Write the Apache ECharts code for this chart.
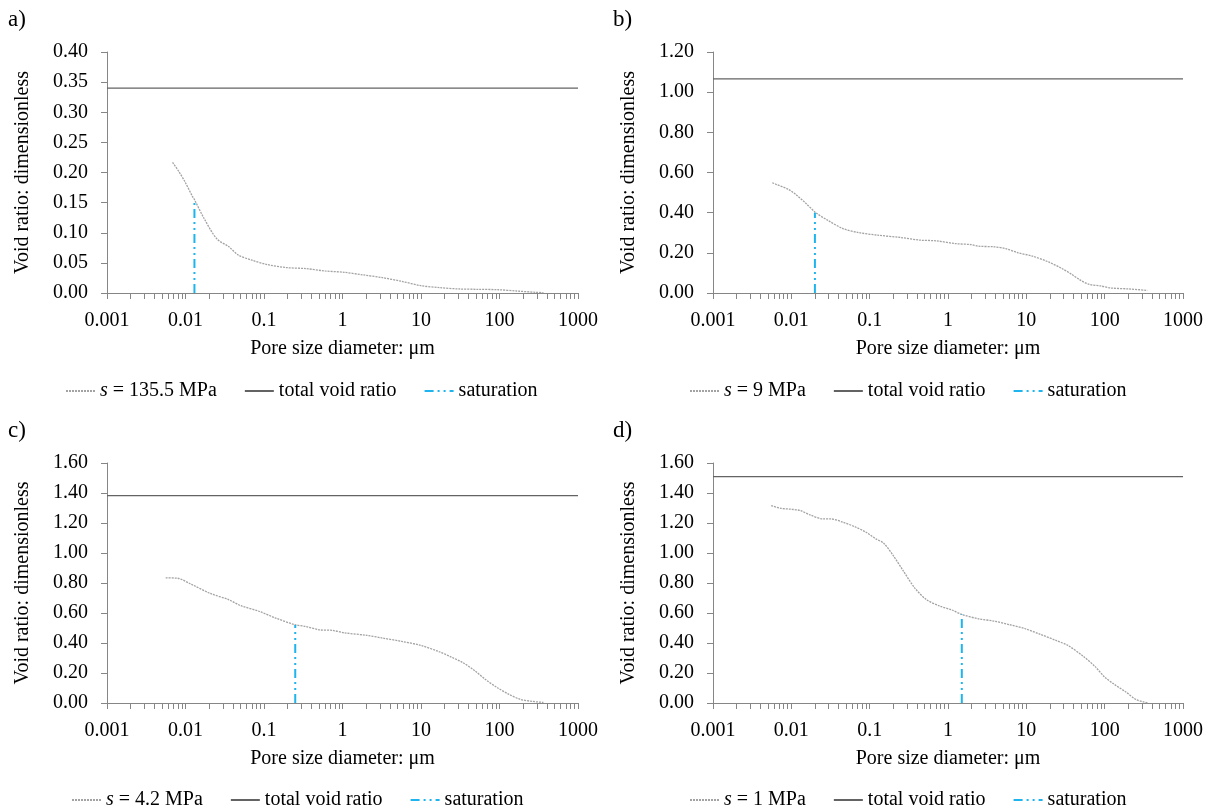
<!DOCTYPE html>
<html>
<head>
<meta charset="utf-8">
<script src="https://cdn.jsdelivr.net/npm/echarts@6/dist/echarts.min.js"></script>
<style>
html,body{margin:0;padding:0;background:#fff;}
#chart{width:1215px;height:811px;}
</style>
</head>
<body>
<div id="chart"></div>
<script>
// ---- Tick labels ----
const xTickValues = [0.001, 0.01, 0.1, 1, 10, 100, 1000];
const xTickLabels = ['0.001', '0.01', '0.1', '1', '10', '100', '1000'];
const panelLetters = ['a)', 'b)', 'c)', 'd)'];
const suctionNames = ['s = 135.5 MPa', 's = 9 MPa', 's = 4.2 MPa', 's = 1 MPa'];
const yMax = [0.40, 1.20, 1.60, 1.60];
const yInterval = [0.05, 0.20, 0.20, 0.20];

// ---- Panel a) s = 135.5 MPa ----
const diamA = [0.00684, 0.00828, 0.0098, 0.0123, 0.013, 0.0172, 0.025, 0.0358, 0.0474, 0.0703, 0.110, 0.193, 0.340, 0.596, 1.045, 1.83, 3.22, 5.65, 9.9, 17.4, 30.5, 53.7, 94, 165, 289, 363];
const voidA = [0.217, 0.201, 0.185, 0.160, 0.155, 0.124, 0.090, 0.0766, 0.0627, 0.0544, 0.0472, 0.0422, 0.0405, 0.0366, 0.0344, 0.030, 0.0255, 0.0194, 0.0122, 0.0089, 0.0067, 0.0061, 0.0055, 0.0033, 0.0011, 0.0005];
const totalA = 0.34;
const satDiamA = 0.013;
const satVoidA = 0.155;

// ---- Panel b) s = 9 MPa ----
const diamB = [0.00571, 0.0064, 0.0092, 0.0116, 0.0154, 0.0205, 0.0289, 0.0455, 0.0718, 0.127, 0.252, 0.445, 0.70, 1.24, 1.96, 2.46, 3.88, 5.47, 7.7, 12.1, 19.1, 28.5, 37.9, 47.6, 63.4, 89, 119, 210, 351];
const voidB = [0.549, 0.541, 0.516, 0.488, 0.446, 0.400, 0.363, 0.321, 0.301, 0.288, 0.276, 0.263, 0.260, 0.246, 0.241, 0.233, 0.230, 0.221, 0.201, 0.183, 0.155, 0.122, 0.093, 0.067, 0.043, 0.035, 0.025, 0.020, 0.013];
const totalB = 1.066;
const satDiamB = 0.02;
const satVoidB = 0.40;

// ---- Panel c) s = 4.2 MPa ----
const diamC = [0.00559, 0.00783, 0.0116, 0.0204, 0.0358, 0.050, 0.088, 0.138, 0.248, 0.34, 0.504, 0.746, 1.045, 2.05, 3.22, 5.65, 9.9, 17.4, 24.4, 34.2, 47.9, 67, 94, 132, 185, 259, 363];
const voidC = [0.834, 0.832, 0.794, 0.732, 0.688, 0.650, 0.610, 0.568, 0.522, 0.510, 0.488, 0.484, 0.468, 0.451, 0.433, 0.411, 0.384, 0.340, 0.306, 0.269, 0.217, 0.155, 0.102, 0.058, 0.024, 0.011, 0.004];
const totalC = 1.382;
const satDiamC = 0.25;
const satVoidC = 0.52;

// ---- Panel d) s = 1 MPa ----
const diamD = [0.00553, 0.00735, 0.0098, 0.0130, 0.0173, 0.0258, 0.0324, 0.0455, 0.0641, 0.090, 0.120, 0.151, 0.200, 0.267, 0.375, 0.528, 0.787, 1.11, 1.51, 2.46, 3.88, 6.12, 9.7, 15.2, 24.0, 33.9, 53.4, 75.2, 100, 133, 187, 249, 313, 358];
const voidD = [1.316, 1.298, 1.292, 1.283, 1.254, 1.227, 1.227, 1.205, 1.176, 1.138, 1.094, 1.065, 0.983, 0.883, 0.768, 0.690, 0.646, 0.621, 0.590, 0.561, 0.546, 0.522, 0.495, 0.457, 0.417, 0.384, 0.311, 0.244, 0.173, 0.124, 0.073, 0.024, 0.007, 0.0];
const totalD = 1.509;
const satDiamD = 1.5;
const satVoidD = 0.59;

const diams = [diamA, diamB, diamC, diamD];
const voids = [voidA, voidB, voidC, voidD];
const totals = [totalA, totalB, totalC, totalD];
const satDiams = [satDiamA, satDiamB, satDiamC, satDiamD];
const satVoids = [satVoidA, satVoidB, satVoidC, satVoidD];

// minor tick positions of a log axis (2..9 in each decade)
const minorTicks = [];
for (let d = -3; d <= 2; d++) {
  for (let k = 1; k <= 9; k++) minorTicks.push(Number((k * Math.pow(10, d)).toPrecision(3)));
}
minorTicks.push(1000);

const FONT = 'Liberation Serif';
const AXIS_GREY = '#868686';

const grids = [
  {left: 107, top: 52, width: 471, height: 241},
  {left: 713, top: 52, width: 470, height: 241},
  {left: 107, top: 463, width: 471, height: 240},
  {left: 713, top: 463, width: 470, height: 240}
];
const legendPos = [
  {left: 60, top: 376},
  {left: 684, top: 376},
  {left: 66, top: 785},
  {left: 684, top: 785}
];
const letterPos = [
  {left: 8, top: 8},
  {left: 613, top: 8},
  {left: 8, top: 419},
  {left: 613, top: 419}
];

const xAxes = [], yAxes = [], series = [], legends = [], graphics = [];
for (let i = 0; i < 4; i++) {
  xAxes.push({
    type: 'log', logBase: 10, min: 0.001, max: 1000, gridIndex: i,
    name: 'Pore size diameter: μm', nameLocation: 'middle', nameGap: 46,
    nameTextStyle: {fontFamily: FONT, fontSize: 20, color: '#000'},
    axisLine: {show: true, lineStyle: {color: AXIS_GREY, width: 1}},
    axisTick: {show: true, customValues: minorTicks, length: 6, inside: false, lineStyle: {color: AXIS_GREY}},
    axisLabel: {
      customValues: xTickValues, margin: 18, fontSize: 20, fontFamily: FONT, color: '#000',
      formatter: v => xTickLabels[Math.round(Math.log10(v)) + 3]
    },
    splitLine: {show: false}, minorSplitLine: {show: false}
  });
  yAxes.push({
    type: 'value', min: 0, max: yMax[i], interval: yInterval[i], gridIndex: i,
    name: 'Void ratio: dimensionless', nameLocation: 'middle', nameGap: 74, nameRotate: 90,
    nameTextStyle: {fontFamily: FONT, fontSize: 20, color: '#000'},
    axisLine: {show: true, lineStyle: {color: AXIS_GREY, width: 1}},
    axisTick: {show: true, length: 6, lineStyle: {color: AXIS_GREY}},
    axisLabel: {margin: 19, fontSize: 20, fontFamily: FONT, color: '#000', formatter: v => v.toFixed(2)},
    splitLine: {show: false}
  });
  series.push({
    name: suctionNames[i], type: 'line', xAxisIndex: i, yAxisIndex: i,
    symbol: 'none', smooth: 0.3,
    lineStyle: {color: '#a3a3a3', width: 1.3, type: [2, 1]},
    itemStyle: {color: '#a3a3a3'},
    data: diams[i].map((x, j) => [x, voids[i][j]])
  });
  series.push({
    name: 'total void ratio', type: 'line', xAxisIndex: i, yAxisIndex: i,
    symbol: 'none',
    lineStyle: {color: '#636363', width: 1.2},
    itemStyle: {color: '#636363'},
    data: [[xTickValues[0], totals[i]], [xTickValues[xTickValues.length - 1], totals[i]]]
  });
  series.push({
    name: 'saturation', type: 'line', xAxisIndex: i, yAxisIndex: i,
    symbol: 'none',
    lineStyle: {color: '#1eb4ee', width: 2, type: [9, 4, 2, 4, 2, 4]},
    itemStyle: {color: '#1eb4ee'},
    data: [[satDiams[i], 0], [satDiams[i], satVoids[i]]]
  });
  legends.push({
    data: [suctionNames[i], 'total void ratio', 'saturation'],
    left: legendPos[i].left, top: legendPos[i].top,
    orient: 'horizontal', itemWidth: 29, itemHeight: 12, itemGap: 27,
    selectedMode: false,
    itemStyle: {opacity: 0},
    textStyle: {
      fontFamily: FONT, fontSize: 20, color: '#000',
      rich: {it: {fontFamily: FONT, fontSize: 20, fontStyle: 'italic', color: '#000'}}
    },
    formatter: name => name.startsWith('s = ') ? '{it|s}' + name.slice(1) : name
  });
  graphics.push({
    type: 'text', left: letterPos[i].left, top: letterPos[i].top,
    style: {text: panelLetters[i], font: '23px "Liberation Serif"', fill: '#000'}
  });
}

const chart = echarts.init(document.getElementById('chart'), null, {renderer: 'canvas'});
chart.setOption({
  animation: false,
  backgroundColor: '#fff',
  grid: grids,
  xAxis: xAxes,
  yAxis: yAxes,
  legend: legends,
  series: series,
  graphic: graphics
});
</script>
</body>
</html>
